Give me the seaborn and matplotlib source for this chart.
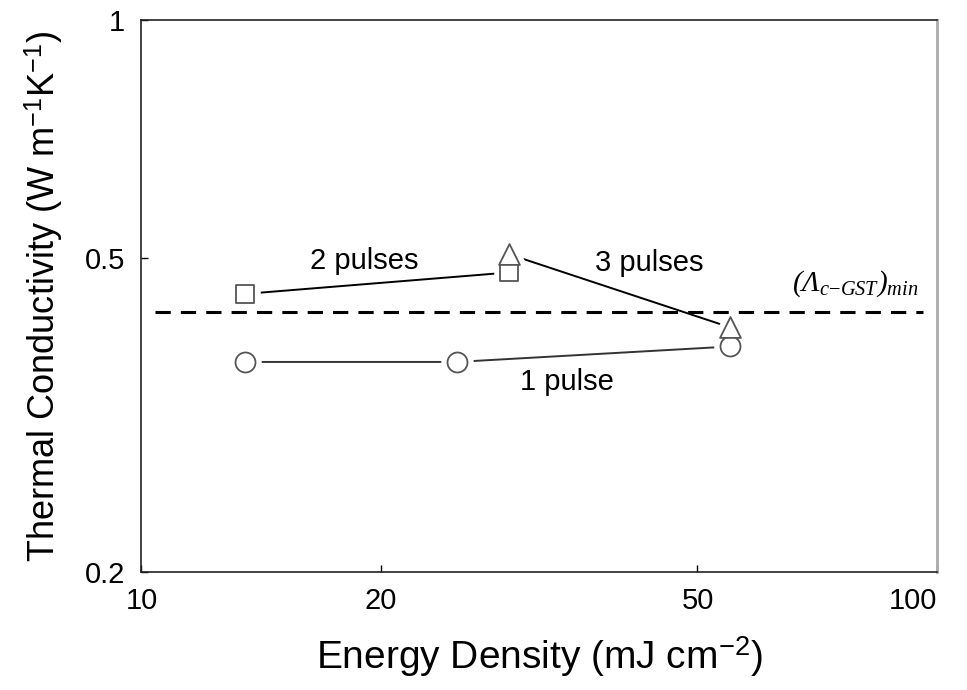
import seaborn as sns
import pandas as pd
import matplotlib
matplotlib.use('Agg')
import matplotlib.pyplot as plt

# values (log-log axes)
one_pulse_x = [13.5, 24.9, 55.0]
one_pulse_y = [0.369, 0.369, 0.386]
two_pulse_x = [13.5, 29.0]
two_pulse_y = [0.450, 0.479]
three_pulse_x = [29.0, 55.0]
three_pulse_y = [0.505, 0.408]
gst_min = 0.427

x_ticks = [10, 20, 50, 100]
y_ticks = [0.2, 0.5, 1]

sns.set_style('ticks')
plt.rcParams['font.family'] = ['Liberation Sans', 'DejaVu Sans']
plt.rcParams['mathtext.fontset'] = 'custom'
plt.rcParams['mathtext.rm'] = 'Liberation Serif'
plt.rcParams['mathtext.it'] = 'Liberation Serif:italic'
plt.rcParams['text.color'] = 'black'
plt.rcParams['axes.labelcolor'] = 'black'

df1 = pd.DataFrame({'x': one_pulse_x, 'y': one_pulse_y})
df2 = pd.DataFrame({'x': two_pulse_x, 'y': two_pulse_y})
df3 = pd.DataFrame({'x': three_pulse_x, 'y': three_pulse_y})

fig = plt.figure(figsize=(9.67, 6.9), dpi=100)
ax = fig.add_axes([0.1463, 0.171, 0.8226, 0.80])
ax.set_xscale('log')
ax.set_yscale('log')

# connecting lines
for d, c in [(df1, '#333333'), (df2, 'black'), (df3, 'black')]:
    sns.lineplot(data=d, x='x', y='y', color=c, lw=1.4, sort=False,
                 estimator=None, ax=ax, zorder=2)

# white halo so the lines stop short of the markers
for d, m, s in [(df1, 'o', 207), (df2, 's', 169), (df3, '^', 225)]:
    sns.scatterplot(data=d, x='x', y='y', marker=m, s=s, color='white',
                    edgecolor='white', linewidth=9, ax=ax, zorder=3)
for d, m, s in [(df1, 'o', 207), (df2, 's', 169), (df3, '^', 225)]:
    sns.scatterplot(data=d, x='x', y='y', marker=m, s=s, color='white',
                    edgecolor='#555555', linewidth=1.3, ax=ax, zorder=4)

ax.axhline(gst_min, xmin=0.017, xmax=0.982, color='black', lw=2.2,
           dashes=(5, 3.3), zorder=5)

ax.set_xlim(10, 100)
ax.set_ylim(0.2, 1)
ax.set_xticks(x_ticks)
ax.set_xticklabels([str(v) for v in x_ticks])
ax.set_yticks(y_ticks)
ax.set_yticklabels(['0.2', '0.5', '1'])
ax.minorticks_off()
ax.tick_params(direction='in', length=5, width=1, labelsize=21,
               color='black', labelcolor='black')
ax.tick_params(axis='x', pad=11)
ax.tick_params(axis='y', pad=12)
# push "100" left so it ends at the right spine
lbl = ax.get_xticklabels()[-1]
lbl.set_horizontalalignment('right')

for side in ['left', 'top', 'bottom']:
    ax.spines[side].set_color('#222222')
    ax.spines[side].set_linewidth(1.2)
ax.spines['right'].set_color('#aaaaaa')
ax.spines['right'].set_linewidth(2)

ax.text(0.280, 0.563, '2 pulses', transform=ax.transAxes, fontsize=21,
        ha='center', va='center')
ax.text(0.638, 0.560, '3 pulses', transform=ax.transAxes, fontsize=21,
        ha='center', va='center')
ax.text(0.535, 0.344, '1 pulse', transform=ax.transAxes, fontsize=21,
        ha='center', va='center')
ax.text(0.898, 0.522, r'(Λ$_{c\mathrm{-}GST}$)$_{min}$',
        transform=ax.transAxes, fontsize=21, ha='center', va='center',
        family='Liberation Serif', style='italic')

ax.set_xlabel(r'Energy Density (mJ cm$^{\mathregular{-2}}$)', fontsize=28, labelpad=14)
ax.set_ylabel(r'Thermal Conductivity (W m$^{\mathregular{-1}}$K$^{\mathregular{-1}}$)',
              fontsize=26, labelpad=14)

fig.savefig('out.png', dpi=100)
